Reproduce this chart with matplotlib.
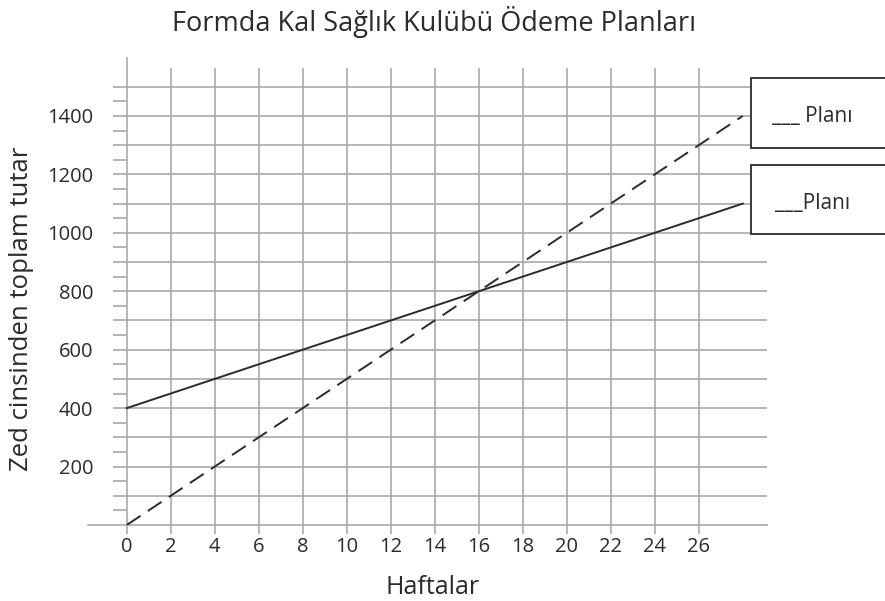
import numpy as np
import matplotlib.pyplot as plt
from matplotlib.patches import Rectangle

plt.rcParams['font.family'] = ['Open Sans', 'DejaVu Sans']

# weekly payment plans (total paid vs weeks)
weeks = [0, 28]
plan_a = [0, 1400]      # dashed: pay per week only
plan_b = [400, 1100]    # solid: joining fee plus weekly fee

x_ticks = list(range(0, 27, 2))
y_labels = list(range(200, 1401, 200))
box_labels = ["___ Planı", "___Planı"]

W, H = 885, 601
grid_col = '#a9a9a9'
ink = '#2b2b2b'

fig = plt.figure(figsize=(W / 100, H / 100), dpi=100)
ax = fig.add_axes([88 / W, 1 - 525 / H, 679 / W, (525 - 57.5) / H])
ax.set_xlim(-1.76, 29.1)
ax.set_ylim(0, 1600)

for s in ['top', 'right']:
    ax.spines[s].set_visible(False)
ax.spines['left'].set_position(('data', 0))
for s in ['left', 'bottom']:
    ax.spines[s].set_color(grid_col)
    ax.spines[s].set_linewidth(1.2)

# grid
ax.hlines(np.arange(100, 1501, 100), 0, 29.1, color=grid_col, lw=1.2, zorder=1)
ax.vlines(x_ticks[1:], 0, 1564, color=grid_col, lw=1.2, zorder=1)

ax.set_xticks(x_ticks)
ax.set_xticklabels([str(v) for v in x_ticks])
ax.tick_params(axis='x', length=6.5, width=1.2, color=grid_col, pad=2,
               labelsize=14.5, labelcolor=ink)

ax.set_yticks(np.arange(100, 1501, 100))
ax.set_yticklabels([str(v) if v in y_labels else '' for v in range(100, 1501, 100)])
ax.set_yticks(np.arange(50, 1501, 100), minor=True)
ax.tick_params(axis='y', which='both', length=10, width=1.2, color=grid_col,
               pad=14, labelsize=14.5, labelcolor=ink)

ax.plot(weeks, plan_a, color=ink, lw=1.4, ls=(0, (8.5, 4.5)), zorder=3)
ax.plot(weeks, plan_b, color=ink, lw=1.4, zorder=3)

# title and axis labels
fig.text(434 / W, 1 - 31 / H, "Formda Kal Sağlık Kulübü Ödeme Planları",
         ha='center', va='baseline', fontsize=19.5, color=ink)
fig.text(433 / W, 1 - 594 / H, "Haftalar", ha='center', va='baseline',
         fontsize=18, color=ink)
fig.text(22 / W, 1 - 309 / H, "Zed cinsinden toplam tutar", ha='center',
         va='center', rotation=90, fontsize=18.5, color=ink)

# label boxes on the right
for (top, bot), lab, tx in zip([(78, 148), (165, 234)], box_labels, [772, 775]):
    fig.patches.append(Rectangle((751 / W, 1 - bot / H), 200 / W, (bot - top) / H,
                                 transform=fig.transFigure, facecolor='white',
                                 edgecolor=ink, lw=1.3, zorder=5))
    fig.text(tx / W, 1 - ((top + bot) / 2 + 9) / H, lab, ha='left', va='baseline',
             fontsize=15, color=ink, zorder=6)

fig.savefig('out.png', dpi=100)
